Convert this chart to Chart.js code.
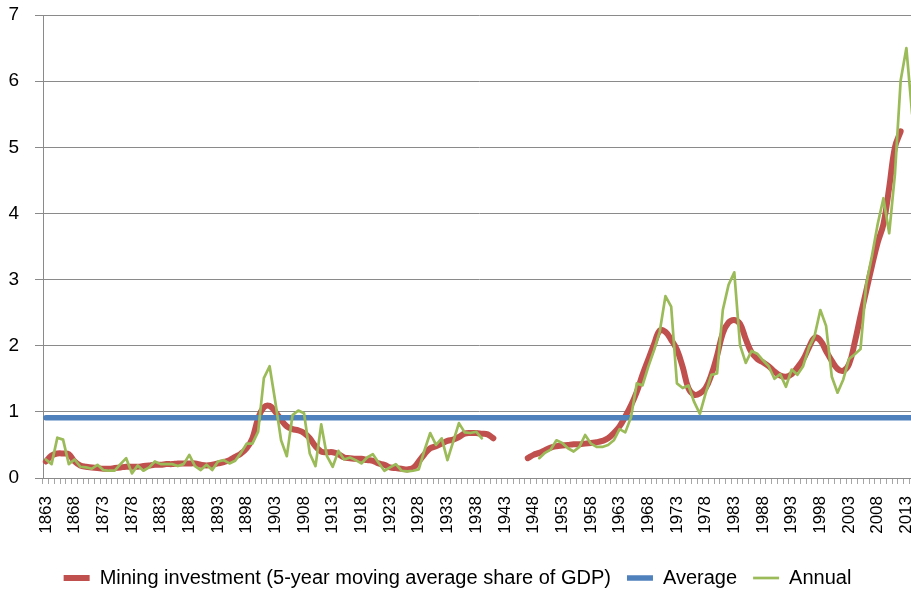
<!DOCTYPE html>
<html>
<head>
<meta charset="utf-8">
<script src="https://cdn.jsdelivr.net/npm/chart.js@4.4.1/dist/chart.umd.min.js"></script>
<style>
  html, body { margin: 0; padding: 0; background: #fff; overflow: hidden; }
  #wrap { position: relative; width: 915px; height: 598px; }
</style>
</head>
<body>
<div id="wrap"><canvas id="miningChart"></canvas></div>
<script>
// Years on the category axis (one per year, labelled every 5th)
const firstYear = 1863;
const lastYear = 2014;
const years = [];
for (let y = firstYear; y <= lastYear; y++) years.push(String(y));

// Mining investment, 5-year moving average share of GDP (%), 1863-2014
const movingAvg = [
  0.25, 0.34, 0.37, 0.37, 0.36, 0.25, 0.19,                         // 1863-1869
  0.17, 0.16, 0.15, 0.14, 0.14, 0.15, 0.16, 0.17, 0.17, 0.17,       // 1870s
  0.18, 0.19, 0.20, 0.20, 0.21, 0.21, 0.22, 0.22, 0.22, 0.22,       // 1880s
  0.20, 0.19, 0.20, 0.22, 0.24, 0.27, 0.32, 0.37, 0.45, 0.60,       // 1890s
  0.90, 1.07, 1.09, 1.00, 0.88, 0.78, 0.74, 0.72, 0.68, 0.60,       // 1900s
  0.48, 0.40, 0.39, 0.39, 0.36, 0.31, 0.30, 0.29, 0.29, 0.27,       // 1910s
  0.26, 0.22, 0.20, 0.16, 0.15, 0.14, 0.13, 0.15, 0.25, 0.36,       // 1920s
  0.45, 0.48, 0.52, 0.56, 0.58, 0.62, 0.67, 0.68, 0.68, 0.67,       // 1930s
  0.66, 0.60, null, null, null, null, null, 0.30, 0.35, 0.38,       // 1940s
  0.42, 0.46, 0.48, 0.49, 0.50, 0.51, 0.51, 0.52, 0.53, 0.54,       // 1950s
  0.56, 0.60, 0.68, 0.78, 0.93, 1.10, 1.30, 1.56, 1.79, 2.02,       // 1960s
  2.23, 2.21, 2.09, 1.94, 1.68, 1.36, 1.26, 1.28, 1.36, 1.56,       // 1970s
  1.85, 2.19, 2.35, 2.39, 2.33, 2.10, 1.90, 1.80, 1.75, 1.69,       // 1980s
  1.61, 1.55, 1.53, 1.57, 1.67, 1.79, 1.97, 2.12, 2.08, 1.92,       // 1990s
  1.77, 1.65, 1.62, 1.72, 2.05, 2.45, 2.83, 3.21, 3.56, 3.84,       // 2000s
  4.39, 5.00, 5.24, null, null                                      // 2010-2014
];

// Annual share of GDP (%)
const annual = [
  0.28, 0.21, 0.61, 0.58, 0.21, 0.28, 0.17,                         // 1863-1869
  0.16, 0.14, 0.20, 0.12, 0.11, 0.11, 0.21, 0.30, 0.07, 0.19,       // 1870s
  0.11, 0.16, 0.25, 0.21, 0.21, 0.21, 0.18, 0.21, 0.35, 0.18,       // 1880s
  0.12, 0.20, 0.12, 0.25, 0.27, 0.22, 0.26, 0.38, 0.52, 0.52,       // 1890s
  0.70, 1.51, 1.69, 1.15, 0.57, 0.33, 0.95, 1.02, 0.98, 0.37,       // 1900s
  0.18, 0.81, 0.33, 0.17, 0.41, 0.28, 0.31, 0.27, 0.22, 0.31,       // 1910s
  0.36, 0.23, 0.11, 0.16, 0.21, 0.11, 0.10, 0.11, 0.13, 0.42,       // 1920s
  0.68, 0.50, 0.60, 0.27, 0.55, 0.83, 0.69, 0.68, 0.70, 0.60,       // 1930s
  null, null, null, null, null, null, null, null, null, 0.30,       // 1940s
  0.38, 0.43, 0.57, 0.53, 0.45, 0.40, 0.47, 0.65, 0.52, 0.47,       // 1950s
  0.47, 0.50, 0.57, 0.74, 0.69, 0.92, 1.43, 1.40, 1.68, 1.93,       // 1960s
  2.21, 2.75, 2.59, 1.43, 1.36, 1.40, 1.15, 0.97, 1.28, 1.56,       // 1970s
  1.58, 2.54, 2.92, 3.11, 2.01, 1.74, 1.92, 1.88, 1.78, 1.69,       // 1980s
  1.50, 1.57, 1.38, 1.64, 1.56, 1.69, 1.97, 2.15, 2.54, 2.30,       // 1990s
  1.53, 1.29, 1.49, 1.80, 1.87, 1.95, 2.93, 3.36, 3.84, 4.23,       // 2000s
  3.70, 4.59, 6.01, 6.50, 5.50                                      // 2010-2014
];

// Long-run average, drawn across the whole period
const averageLevel = 0.91;
const averageSpan = ['1863', '2014'];

const seriesNames = [
  'Mining investment (5-year moving average share of GDP)',
  'Average',
  'Annual'
];
const seriesColors = ['#C0504D', '#4F81BD', '#9BBB59'];

const gridGray = '#8a8a8a';
const tickFont = { family: '"Liberation Sans", Arial, sans-serif', size: 19 };
const xTickFont = { family: '"Liberation Sans", Arial, sans-serif', size: 17 };

const ctx = document.getElementById('miningChart').getContext('2d');

new Chart(ctx, {
  type: 'line',
  data: {
    labels: years,
    datasets: [
      {
        label: seriesNames[0],
        data: movingAvg,
        borderColor: seriesColors[0],
        backgroundColor: seriesColors[0],
        borderWidth: 6,
        tension: 0.4,
        borderCapStyle: 'round',
        borderJoinStyle: 'round',
        pointRadius: 0,
        spanGaps: false,
        order: 3
      },
      {
        label: seriesNames[1],
        data: averageSpan.map(yr => ({ x: yr, y: averageLevel })),
        borderColor: seriesColors[1],
        backgroundColor: seriesColors[1],
        borderWidth: 5.5,
        borderCapStyle: 'round',
        pointRadius: 0,
        order: 2
      },
      {
        label: seriesNames[2],
        data: annual,
        borderColor: seriesColors[2],
        backgroundColor: seriesColors[2],
        borderWidth: 2.7,
        tension: 0,
        borderCapStyle: 'round',
        borderJoinStyle: 'round',
        pointRadius: 0,
        spanGaps: false,
        order: 1
      }
    ]
  },
  options: {
    responsive: true,
    maintainAspectRatio: false,
    devicePixelRatio: 1,
    animation: false,
    layout: { padding: { top: 15, right: 0, bottom: 0, left: 0 } },
    scales: {
      x: {
        offset: true,
        grid: {
          offset: true,
          drawOnChartArea: false,
          drawTicks: true,
          tickLength: 6,
          color: '#a6a6a6'
        },
        border: { display: true, color: gridGray },
        ticks: {
          autoSkip: false,
          maxRotation: 90,
          minRotation: 90,
          padding: 12,
          color: '#000',
          font: xTickFont,
          callback: (val, i) => ((Number(years[i]) - firstYear) % 5 === 0 ? years[i] : '')
        },
        afterFit: scale => {
          scale.height = 74;
          scale.paddingLeft = 0;
          scale.paddingRight = 0;
        }
      },
      y: {
        min: 0,
        max: 7,
        grid: { color: gridGray, tickLength: 8 },
        border: { display: true, color: gridGray },
        ticks: { stepSize: 1, padding: 16, color: '#000', font: tickFont },
        afterFit: scale => {
          scale.width = 43;
          scale.paddingTop = 0;
          scale.paddingBottom = 0;
        }
      }
    },
    plugins: {
      legend: {
        position: 'bottom',
        labels: {
          usePointStyle: true,
          pointStyle: 'line',
          pointStyleWidth: 26,
          color: '#000',
          padding: 16,
          font: { family: '"Liberation Sans", Arial, sans-serif', size: 20 },
          sort: (a, b) => a.datasetIndex - b.datasetIndex
        }
      },
      tooltip: { enabled: false }
    }
  }
});
</script>
</body>
</html>
